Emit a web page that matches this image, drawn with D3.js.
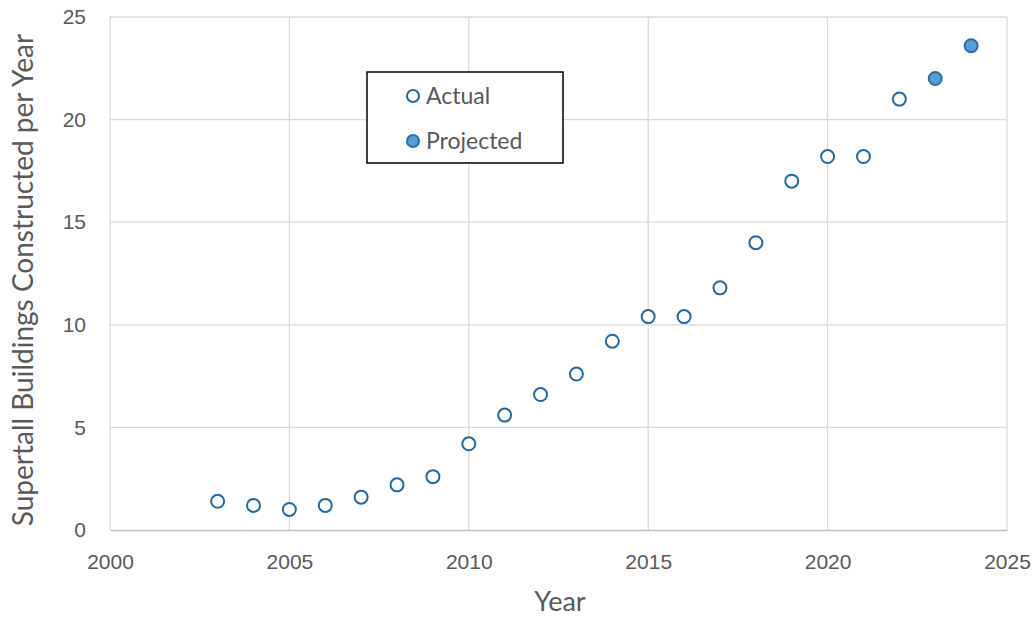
<!DOCTYPE html>
<html>
<head>
<meta charset="utf-8">
<script src="https://cdn.jsdelivr.net/npm/d3@7"></script>
<style>
  html, body { margin: 0; padding: 0; background: #fff; }
  svg { display: block; font-family: Lato, "Open Sans", sans-serif; }
</style>
</head>
<body>
<svg id="chart" width="1036" height="619"></svg>
<script>
// Supertall buildings completed per year
const actualYears = [2003, 2004, 2005, 2006, 2007, 2008, 2009, 2010, 2011, 2012, 2013,
                     2014, 2015, 2016, 2017, 2018, 2019, 2020, 2021, 2022];
const actualValues = [1.4, 1.2, 1.0, 1.2, 1.6, 2.2, 2.6, 4.2, 5.6, 6.6, 7.6,
                      9.2, 10.4, 10.4, 11.8, 14.0, 17.0, 18.2, 18.2, 21.0];
const projectedYears = [2023, 2024];
const projectedValues = [22.0, 23.6];
const xTicks = [2000, 2005, 2010, 2015, 2020, 2025];
const yTicks = [0, 5, 10, 15, 20, 25];
const legendLabels = ["Actual", "Projected"];

const svg = d3.select("#chart");
const plot = { left: 110, right: 1007, top: 17, bottom: 530 };

const x = d3.scaleLinear().domain([2000, 2025]).range([plot.left, plot.right]);
const y = d3.scaleLinear().domain([0, 25]).range([plot.bottom, plot.top]);

const tickColor = "#595959";
const gridColor = "#d9d9d9";

// Gridlines
const grid = svg.append("g");
grid.selectAll("line.v").data(xTicks).join("line")
  .attr("x1", d => x(d)).attr("x2", d => x(d))
  .attr("y1", plot.top).attr("y2", plot.bottom)
  .attr("stroke", gridColor).attr("stroke-width", 1.3);
grid.selectAll("line.h").data(yTicks.filter(d => d > 0)).join("line")
  .attr("x1", plot.left).attr("x2", plot.right)
  .attr("y1", d => y(d)).attr("y2", d => y(d))
  .attr("stroke", gridColor).attr("stroke-width", 1.3);

// Axes
const xAxis = svg.append("g")
  .attr("transform", `translate(0,${plot.bottom})`)
  .call(d3.axisBottom(x).tickValues(xTicks).tickFormat(d3.format("d")).tickSize(0).tickPadding(24));
xAxis.select(".domain").attr("stroke", "#bfbfbf").attr("stroke-width", 1.5);
xAxis.selectAll("text").attr("fill", tickColor).style("font-size", "21px");

const yAxis = svg.append("g")
  .attr("transform", `translate(${plot.left},0)`)
  .call(d3.axisLeft(y).tickValues(yTicks).tickSize(0).tickPadding(24));
yAxis.select(".domain").remove();
yAxis.selectAll("text").attr("fill", tickColor).style("font-size", "21px");

// Axis titles
svg.append("text")
  .attr("x", 560).attr("y", 611)
  .attr("text-anchor", "middle").attr("fill", tickColor)
  .style("font-size", "27px").text("Year");

svg.append("text")
  .attr("transform", `translate(33,280) rotate(-90)`)
  .attr("text-anchor", "middle").attr("fill", tickColor)
  .style("font-size", "28px").text("Supertall Buildings Constructed per Year");

// Markers
const strokeBlue = "#1f6aa5";
const fillBlue = "#5b9bd5";
const r = 6.5;

svg.append("g").selectAll("circle").data(actualYears).join("circle")
  .attr("cx", d => x(d)).attr("cy", (d, i) => y(actualValues[i])).attr("r", r)
  .attr("fill", "#fff").attr("stroke", strokeBlue).attr("stroke-width", 2);

svg.append("g").selectAll("circle").data(projectedYears).join("circle")
  .attr("cx", d => x(d)).attr("cy", (d, i) => y(projectedValues[i])).attr("r", r)
  .attr("fill", fillBlue).attr("stroke", "#2d6fa8").attr("stroke-width", 2);

// Legend
const legend = svg.append("g").attr("transform", "translate(367,72)");
legend.append("rect").attr("width", 196).attr("height", 91)
  .attr("fill", "#fff").attr("stroke", "#000").attr("stroke-width", 1.5);
legendLabels.forEach((label, i) => {
  const cy = 24 + i * 45;
  legend.append("circle").attr("cx", 46).attr("cy", cy).attr("r", 6)
    .attr("fill", i === 0 ? "#fff" : fillBlue)
    .attr("stroke", i === 0 ? strokeBlue : "#2d6fa8").attr("stroke-width", 2);
  legend.append("text").attr("x", 59).attr("y", cy + 8)
    .attr("fill", tickColor).style("font-size", "23px").text(label);
});
</script>
</body>
</html>
